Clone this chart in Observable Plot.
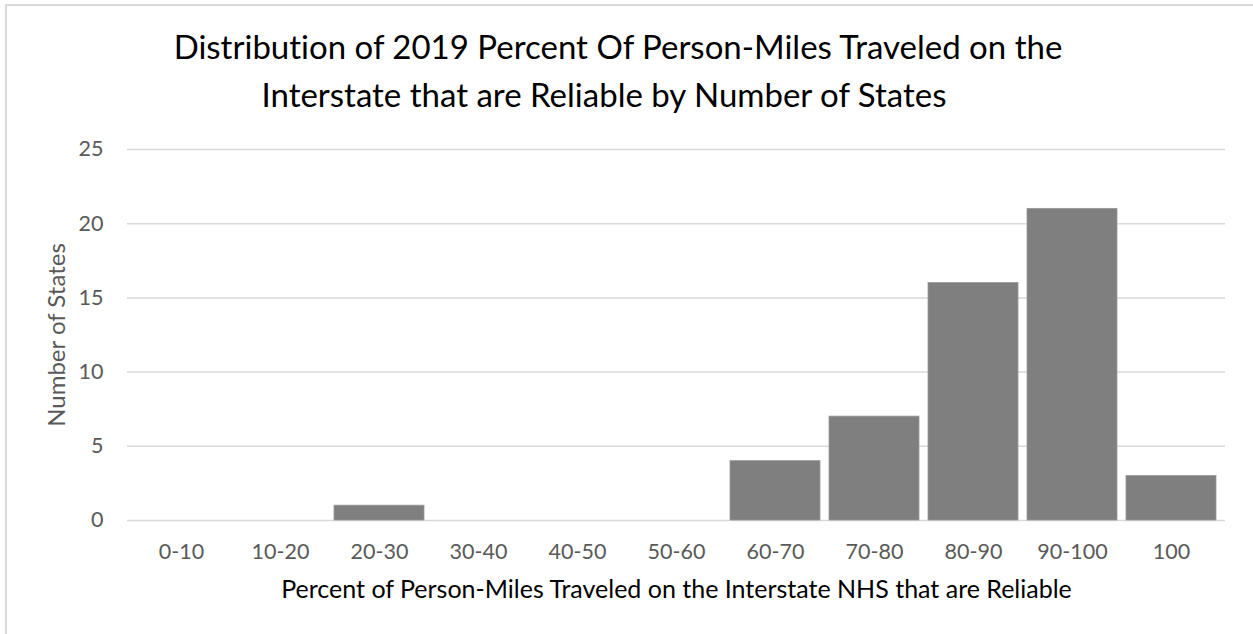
<!DOCTYPE html>
<html>
<head>
<meta charset="utf-8">
<script src="https://cdn.jsdelivr.net/npm/d3@7"></script>
<script src="https://cdn.jsdelivr.net/npm/@observablehq/plot@0.6"></script>
<style>
  html, body { margin: 0; padding: 0; background: #fff; }
  #wrap { position: relative; width: 1253px; height: 634px; overflow: hidden; font-family: Lato, "Open Sans", sans-serif; font-variant-ligatures: none; }
  #frame { position: absolute; left: 5px; top: 4px; right: -10px; bottom: -10px; border-top: 2px solid #d9d9d9; border-left: 2px solid #d9d9d9; pointer-events: none; }
  #title { position: relative; height: 130px; color: #000; }
  #title div { position: absolute; white-space: nowrap; font-size: 33px; transform: translateX(-50%); line-height: 1; }
  #chart svg { display: block; font-variant-ligatures: none; }
</style>
</head>
<body>
<div id="wrap">
  <div id="frame"></div>
  <div id="title">
    <div id="t1" style="left:618px; top:30px;">Distribution of 2019 Percent Of Person-Miles Traveled on the</div>
    <div id="t2" style="left:604px; top:78px;">Interstate that are Reliable by Number of States</div>
  </div>
  <div id="chart"></div>
</div>
<script>
const categories = ["0-10", "10-20", "20-30", "30-40", "40-50", "50-60", "60-70", "70-80", "80-90", "90-100", "100"];
const counts = [0, 0, 1, 0, 0, 0, 4, 7, 16, 21, 3];
const yTicks = [0, 5, 10, 15, 20, 25];
const xTitle = "Percent of Person-Miles Traveled on the Interstate NHS that are Reliable";
const yTitle = "Number of States";

const data = categories.map((c, i) => ({category: c, count: counts[i]}));

const chart = Plot.plot({
  width: 1253,
  height: 504,
  marginTop: 19,
  marginBottom: 114,
  marginLeft: 127,
  marginRight: 28,
  style: {fontFamily: "Lato, 'Open Sans', sans-serif", background: "transparent"},
  x: {type: "band", domain: categories, paddingInner: 0.09, paddingOuter: 0.045, label: null},
  y: {domain: [0, 25], label: null},
  marks: [
    Plot.gridY(yTicks, {stroke: "#d9d9d9", strokeOpacity: 1, strokeWidth: 1.5}),
    Plot.barY(data.filter(d => d.count > 0), {x: "category", y: "count", fill: "#7f7f7f", stroke: "#9a9a9a", strokeWidth: 0.8}),
    Plot.axisX({tickSize: 0, tickPadding: 23, fontSize: 21.5, fill: "#595959", label: null}),
    Plot.axisY(yTicks, {tickSize: 0, tickPadding: 24, fontSize: 21.5, fill: "#595959", label: null}),
    Plot.text([xTitle], {frameAnchor: "bottom", lineAnchor: "bottom", dy: 77, fontSize: 25, fill: "#000"}),
    Plot.text([yTitle], {frameAnchor: "left", rotate: -90, dx: -70, lineAnchor: "middle", textAnchor: "middle", fontSize: 24, fill: "#595959"})
  ]
});
document.getElementById("chart").appendChild(chart);
</script>
</body>
</html>
